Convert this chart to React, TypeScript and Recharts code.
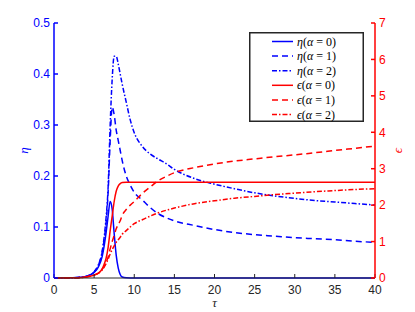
import React from "react";
import { LineChart, Line, XAxis, YAxis, Legend } from "recharts";

// shared time grid (tau)
const tau = [
  0, 2, 3, 4, 4.5, 5, 5.5, 6, 6.25, 6.5, 6.75, 7, 7.25, 7.5, 7.75, 8, 8.25, 8.5, 9, 9.5,
  10, 11, 12, 13, 14, 15, 17.5, 20, 22.5, 25, 27.5, 30, 32.5, 35, 37.5, 40,
];

// eta, left axis
const etaA0 = [
  0, 0.0005, 0.001, 0.003, 0.006, 0.011, 0.021, 0.042, 0.063, 0.09, 0.122, 0.15, 0.135, 0.087, 0.045, 0.02, 0.007, 0.002, 0.0003, 0,
  0, 0, 0, 0, 0, 0, 0, 0, 0, 0, 0, 0, 0, 0, 0, 0,
];
const etaA1 = [
  0, 0.0005, 0.001, 0.003, 0.006, 0.012, 0.024, 0.05, 0.075, 0.11, 0.17, 0.27, 0.335, 0.32, 0.29, 0.27, 0.25, 0.23, 0.2, 0.182,
  0.168, 0.153, 0.138, 0.126, 0.118, 0.112, 0.103, 0.095, 0.089, 0.085, 0.082, 0.079, 0.077, 0.075, 0.072, 0.07,
];
const etaA2 = [
  0, 0.0005, 0.001, 0.003, 0.006, 0.012, 0.025, 0.052, 0.08, 0.12, 0.18, 0.3, 0.39, 0.435, 0.435, 0.42, 0.4, 0.38, 0.345, 0.31,
  0.285, 0.258, 0.243, 0.233, 0.224, 0.213, 0.195, 0.184, 0.175, 0.167, 0.161, 0.156, 0.152, 0.149, 0.146, 0.143,
];

// epsilon, right axis
const epsA0 = [
  0, 0.005, 0.01, 0.03, 0.05, 0.08, 0.13, 0.25, 0.38, 0.55, 0.85, 1.3, 1.7, 2.1, 2.38, 2.52, 2.59, 2.62, 2.63, 2.63,
  2.63, 2.63, 2.63, 2.63, 2.63, 2.63, 2.63, 2.63, 2.63, 2.63, 2.63, 2.63, 2.63, 2.63, 2.63, 2.63,
];
const epsA1 = [
  0, 0.005, 0.01, 0.03, 0.05, 0.08, 0.13, 0.24, 0.32, 0.43, 0.58, 0.8, 1.0, 1.17, 1.35, 1.47, 1.57, 1.72, 1.88, 2.0,
  2.1, 2.32, 2.5, 2.67, 2.79, 2.89, 3.03, 3.13, 3.21, 3.27, 3.33, 3.38, 3.44, 3.5, 3.56, 3.62,
];
const epsA2 = [
  0, 0.005, 0.01, 0.03, 0.05, 0.08, 0.13, 0.22, 0.3, 0.4, 0.52, 0.66, 0.78, 0.88, 0.98, 1.05, 1.12, 1.2, 1.3, 1.4,
  1.49, 1.6, 1.7, 1.79, 1.86, 1.92, 2.04, 2.12, 2.19, 2.24, 2.29, 2.33, 2.37, 2.4, 2.43, 2.45,
];

const xTicks = [0, 5, 10, 15, 20, 25, 30, 35, 40];
const etaTicks = [0, 0.1, 0.2, 0.3, 0.4, 0.5];
const epsTicks = [0, 1, 2, 3, 4, 5, 6, 7];

const BLUE = "#0000ff";
const RED = "#ff0000";
const DARK = "#262626";
const TICK_FONT = "'Liberation Sans', Arial, sans-serif";
const SERIF = "'Liberation Serif', 'DejaVu Serif', serif";

const DASH = "6 4";
const DASHDOT = "5 2 1.5 2";

const series = [
  { key: "eta0", sym: "η", a: 0, color: BLUE, dash: undefined, axis: "left" },
  { key: "eta1", sym: "η", a: 1, color: BLUE, dash: DASH, axis: "left" },
  { key: "eta2", sym: "η", a: 2, color: BLUE, dash: DASHDOT, axis: "left" },
  { key: "eps0", sym: "ϵ", a: 0, color: RED, dash: undefined, axis: "right" },
  { key: "eps1", sym: "ϵ", a: 1, color: RED, dash: DASH, axis: "right" },
  { key: "eps2", sym: "ϵ", a: 2, color: RED, dash: DASHDOT, axis: "right" },
];

const data = tau.map((t, i) => ({
  t,
  eta0: etaA0[i],
  eta1: etaA1[i],
  eta2: etaA2[i],
  eps0: epsA0[i],
  eps1: epsA1[i],
  eps2: epsA2[i],
}));

const sideLabel = (text: string, color: string, dx: number) => (props: any) => {
  const vb = props.viewBox || {};
  const cx = vb.x + dx;
  const cy = vb.y + vb.height / 2;
  return (
    <text
      x={cx}
      y={cy}
      transform={`rotate(-90 ${cx} ${cy})`}
      textAnchor="middle"
      dominantBaseline="central"
      fill={color}
      fontFamily={SERIF}
      fontStyle="italic"
      fontSize={13}
    >
      {text}
    </text>
  );
};

const bottomLabel = (props: any) => {
  const vb = props.viewBox || {};
  return (
    <text
      x={vb.x + vb.width / 2}
      y={vb.y + 29}
      textAnchor="middle"
      fill={DARK}
      fontFamily={SERIF}
      fontStyle="italic"
      fontSize={13}
    >
      τ
    </text>
  );
};

const LegendBox = () => (
  <svg width={115} height={90} style={{ display: "block" }}>
    <rect x={0.75} y={0.75} width={113.5} height={88.5} fill="#fff" stroke="#262626" strokeWidth={1.5} />
    {series.map((s, i) => {
      const y = 9.5 + i * 14.6;
      return (
        <g key={s.key}>
          <line x1={23} x2={44} y1={y} y2={y} stroke={s.color} strokeWidth={1.5} strokeDasharray={s.dash} />
          <text x={48} y={y + 4} fontFamily={SERIF} fontSize={12} fill="#000">
            <tspan fontStyle="italic">{s.sym}</tspan>
            <tspan>(</tspan>
            <tspan fontStyle="italic">α</tspan>
            <tspan> = {s.a})</tspan>
          </text>
        </g>
      );
    })}
  </svg>
);

export default function App() {
  return (
    <div style={{ position: "absolute", left: 0, top: 0, background: "#fff" }}>
      <LineChart width={415} height={312} data={data} margin={{ top: 23, right: 0, bottom: 0, left: 0 }}>
        <XAxis
          dataKey="t"
          type="number"
          domain={[0, 40]}
          ticks={xTicks}
          interval={0}
          stroke={DARK}
          tickSize={-4}
          tickMargin={11}
          height={34}
          tick={{ fill: DARK, fontSize: 12, fontFamily: TICK_FONT }}
          label={bottomLabel}
        />
        <XAxis
          xAxisId="top"
          orientation="top"
          type="number"
          dataKey="t"
          domain={[0, 40]}
          ticks={xTicks}
          interval={0}
          stroke={DARK}
          tickSize={-4}
          height={0}
          tick={false}
        />
        <YAxis
          yAxisId="left"
          domain={[0, 0.5]}
          ticks={etaTicks}
          interval={0}
          width={54}
          stroke={BLUE}
          strokeWidth={1.5}
          tickSize={-4}
          tickMargin={8}
          tick={{ fill: BLUE, fontSize: 12, fontFamily: TICK_FONT }}
          label={sideLabel("η", BLUE, 23)}
        />
        <YAxis
          yAxisId="right"
          orientation="right"
          domain={[0, 7]}
          ticks={epsTicks}
          interval={0}
          width={40}
          stroke={RED}
          strokeWidth={1.5}
          tickSize={-4}
          tickMargin={8}
          tick={{ fill: RED, fontSize: 12, fontFamily: TICK_FONT }}
          label={sideLabel("ϵ", RED, 22)}
        />
        {series.map((s) => (
          <Line
            key={s.key}
            yAxisId={s.axis}
            dataKey={s.key}
            type="monotone"
            stroke={s.color}
            strokeWidth={1.5}
            strokeDasharray={s.dash}
            dot={false}
            activeDot={false}
            isAnimationActive={false}
          />
        ))}
        <Legend
          layout="vertical"
          align="center"
          verticalAlign="middle"
          content={() => <LegendBox />}
          wrapperStyle={{ position: "absolute", left: 249, top: 32, width: 115, height: 90 }}
        />
      </LineChart>
    </div>
  );
}
